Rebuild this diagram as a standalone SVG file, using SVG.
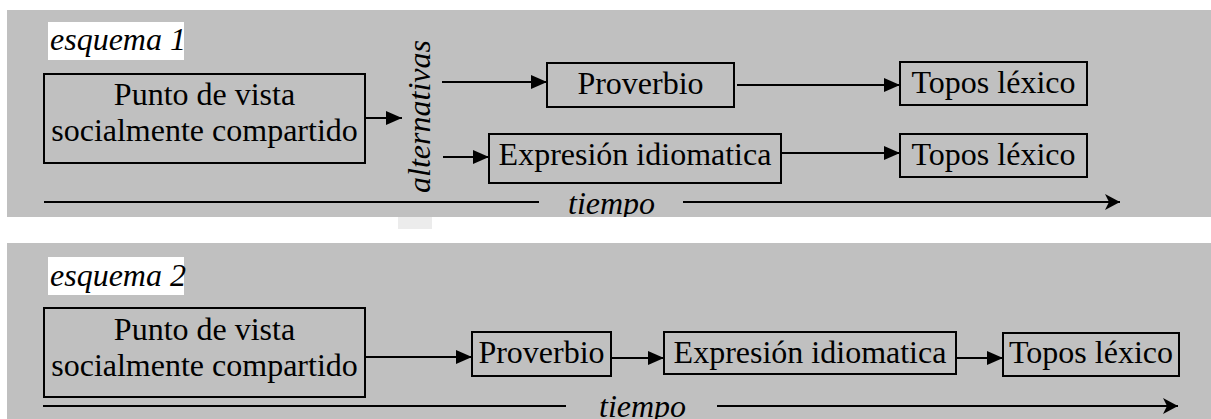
<svg xmlns="http://www.w3.org/2000/svg" width="1211" height="419" viewBox="0 0 1211 419">
<style>
.bg{fill:#c0c0c0}
.lbl{fill:#fff}
.box{fill:none;stroke:#000;stroke-width:2}
text{font-family:'Liberation Serif','DejaVu Serif','Times New Roman',serif;font-size:32px;fill:#000}
.t{text-anchor:middle}
.i{font-style:italic}
.c{fill:none;stroke:#000;stroke-width:2}
</style>
<defs>
<marker id="ah" markerUnits="userSpaceOnUse" markerWidth="17" markerHeight="16" refX="16" refY="7" orient="auto"><path d="M0,0 L16,7 L0,14 z" fill="#000"/></marker>
<marker id="st" markerUnits="userSpaceOnUse" markerWidth="17" markerHeight="18" refX="15" refY="8" orient="auto"><path d="M0,0 L15,8 L0,16 L4,8 z" fill="#000"/></marker>
<clipPath id="clip1"><rect x="7" y="10" width="1204" height="207"/></clipPath>
</defs>
<rect class="bg" x="7" y="10" width="1204" height="207"/>
<rect x="398" y="217" width="34" height="12" fill="#ececec"/>
<rect class="bg" x="7" y="243" width="1204" height="176"/>

<g id="label1"><rect class="lbl" x="48" y="22" width="136" height="38"/><text class="i" x="50" y="50" font-family="Liberation Serif, DejaVu Serif, serif">esquema 1</text></g>
<g id="p1-punto"><rect class="box" x="44" y="74" width="321" height="89"/><text class="t" x="204.5" y="105" font-family="Liberation Serif, DejaVu Serif, serif">Punto de vista</text><text class="t" x="204.5" y="141" font-family="Liberation Serif, DejaVu Serif, serif">socialmente compartido</text></g>
<g id="p1-alternativas"><text class="i" text-anchor="middle" font-family="Liberation Serif, DejaVu Serif, serif" transform="translate(430,116.5) rotate(-90)">alternativas</text></g>
<g id="p1-proverbio"><rect class="box" x="547" y="63" width="187" height="44"/><text class="t" x="640.5" y="94" font-family="Liberation Serif, DejaVu Serif, serif">Proverbio</text></g>
<g id="p1-topos1"><rect class="box" x="900" y="62" width="187" height="43"/><text class="t" x="993.5" y="93" font-family="Liberation Serif, DejaVu Serif, serif">Topos léxico</text></g>
<g id="p1-expresion"><rect class="box" x="489" y="134" width="292" height="49"/><text class="t" x="635" y="165" font-family="Liberation Serif, DejaVu Serif, serif">Expresión idiomatica</text></g>
<g id="p1-topos2"><rect class="box" x="900" y="134" width="187" height="43"/><text class="t" x="993.5" y="165" font-family="Liberation Serif, DejaVu Serif, serif">Topos léxico</text></g>
<g id="p1-tiempo" clip-path="url(#clip1)"><text class="i" x="568" y="214" font-family="Liberation Serif, DejaVu Serif, serif">tiempo</text></g>

<g id="label2"><rect class="lbl" x="48" y="257" width="136" height="38"/><text class="i" x="50" y="286" font-family="Liberation Serif, DejaVu Serif, serif">esquema 2</text></g>
<g id="p2-punto"><rect class="box" x="44" y="308" width="321" height="89"/><text class="t" x="204.5" y="340" font-family="Liberation Serif, DejaVu Serif, serif">Punto de vista</text><text class="t" x="204.5" y="376" font-family="Liberation Serif, DejaVu Serif, serif">socialmente compartido</text></g>
<g id="p2-proverbio"><rect class="box" x="472" y="332" width="139" height="44"/><text class="t" x="541.5" y="363" font-family="Liberation Serif, DejaVu Serif, serif">Proverbio</text></g>
<g id="p2-expresion"><rect class="box" x="664" y="332" width="292" height="42"/><text class="t" x="810" y="363" font-family="Liberation Serif, DejaVu Serif, serif">Expresión idiomatica</text></g>
<g id="p2-topos"><rect class="box" x="1003" y="333" width="176" height="43"/><text class="t" x="1091" y="363" font-family="Liberation Serif, DejaVu Serif, serif">Topos léxico</text></g>
<g id="p2-tiempo"><text class="i" x="599" y="417" font-family="Liberation Serif, DejaVu Serif, serif">tiempo</text></g>

<g id="connectors">
<line class="c" x1="365" y1="118" x2="402" y2="118" marker-end="url(#ah)"/>
<line class="c" x1="442" y1="82" x2="547" y2="82" marker-end="url(#ah)"/>
<line class="c" x1="737" y1="85" x2="900" y2="85" marker-end="url(#ah)"/>
<line class="c" x1="443" y1="157" x2="489" y2="157" marker-end="url(#ah)"/>
<line class="c" x1="781" y1="153" x2="900" y2="153" marker-end="url(#ah)"/>
<line class="c" x1="44" y1="202" x2="539" y2="202"/>
<line class="c" x1="683" y1="202" x2="1120" y2="202" marker-end="url(#st)"/>
<line class="c" x1="365" y1="357" x2="472" y2="357" marker-end="url(#ah)"/>
<line class="c" x1="611" y1="358" x2="664" y2="358" marker-end="url(#ah)"/>
<line class="c" x1="956" y1="358" x2="1003" y2="358" marker-end="url(#ah)"/>
<line class="c" x1="43" y1="406" x2="566" y2="406"/>
<line class="c" x1="717" y1="406" x2="1178" y2="406" marker-end="url(#st)"/>
</g>
</svg>
